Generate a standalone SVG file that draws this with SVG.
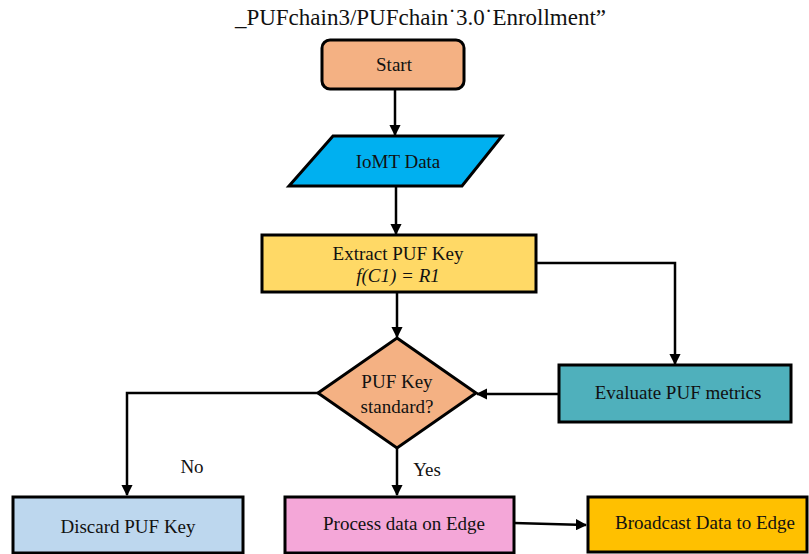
<svg xmlns="http://www.w3.org/2000/svg" width="809" height="554" viewBox="0 0 809 554">
<defs>
<marker id="ah" viewBox="0 0 10 10" refX="9" refY="5" markerWidth="4.5" markerHeight="4.5" orient="auto" markerUnits="strokeWidth">
<path d="M0,0 L10,5 L0,10 z" fill="#000"/>
</marker>
<style>
.n{stroke:#000;stroke-width:3;}
.t{font-family:"Liberation Serif","Times New Roman",serif;font-size:19px;fill:#111;text-anchor:middle;}
.c{fill:none;stroke:#000;stroke-width:2.5;marker-end:url(#ah);}
</style>
</defs>
<rect width="809" height="554" fill="#fff"/>
<text x="420.5" y="25" class="t" style="font-size:23px">_PUFchain3/PUFchain˙3.0˙Enrollment”</text>
<g id="connectors">
<path class="c" d="M395,90 V135"/>
<path class="c" d="M396,186 V234"/>
<path class="c" d="M397,292 V337"/>
<path class="c" d="M536,263 H675 V364"/>
<path class="c" d="M559,394 H477"/>
<path class="c" d="M318,393 H127 V495"/>
<path class="c" d="M397,448 V495"/>
<path class="c" d="M514,523 L586,525"/>
</g>
<g id="start">
<rect class="n" x="322" y="40" width="142" height="49" rx="8" fill="#F4B183"/>
<text class="t" x="394" y="71">Start</text>
</g>
<g id="iomt">
<polygon class="n" points="333,136 502,136 462,186 289,186" fill="#00B0F0"/>
<text class="t" x="398" y="168">IoMT Data</text>
</g>
<g id="extract">
<rect class="n" x="262" y="235" width="274" height="57" fill="#FFD966"/>
<text class="t" x="398" y="260">Extract PUF Key</text>
<text class="t" x="398" y="282" font-style="italic">f(C1) = R1</text>
</g>
<g id="decision">
<polygon class="n" points="397,338 476,393 397,448 318,393" fill="#F4B183"/>
<text class="t" x="397" y="388">PUF Key</text>
<text class="t" x="397" y="413">standard?</text>
</g>
<g id="evaluate">
<rect class="n" x="559" y="365" width="232" height="57" fill="#4FB0BC"/>
<text class="t" x="678" y="399">Evaluate PUF metrics</text>
</g>
<g id="discard">
<rect class="n" x="13" y="497" width="230" height="56" fill="#BDD7EE"/>
<text class="t" x="128" y="533">Discard PUF Key</text>
</g>
<g id="process">
<rect class="n" x="285" y="497" width="229" height="56" fill="#F4A7D8"/>
<text class="t" x="404" y="530">Process data on Edge</text>
</g>
<g id="broadcast">
<rect class="n" x="588" y="497" width="219" height="55" fill="#FFC000"/>
<text class="t" x="705" y="529">Broadcast Data to Edge</text>
</g>
<text class="t" x="192" y="473">No</text>
<text class="t" x="427" y="476">Yes</text>
</svg>
